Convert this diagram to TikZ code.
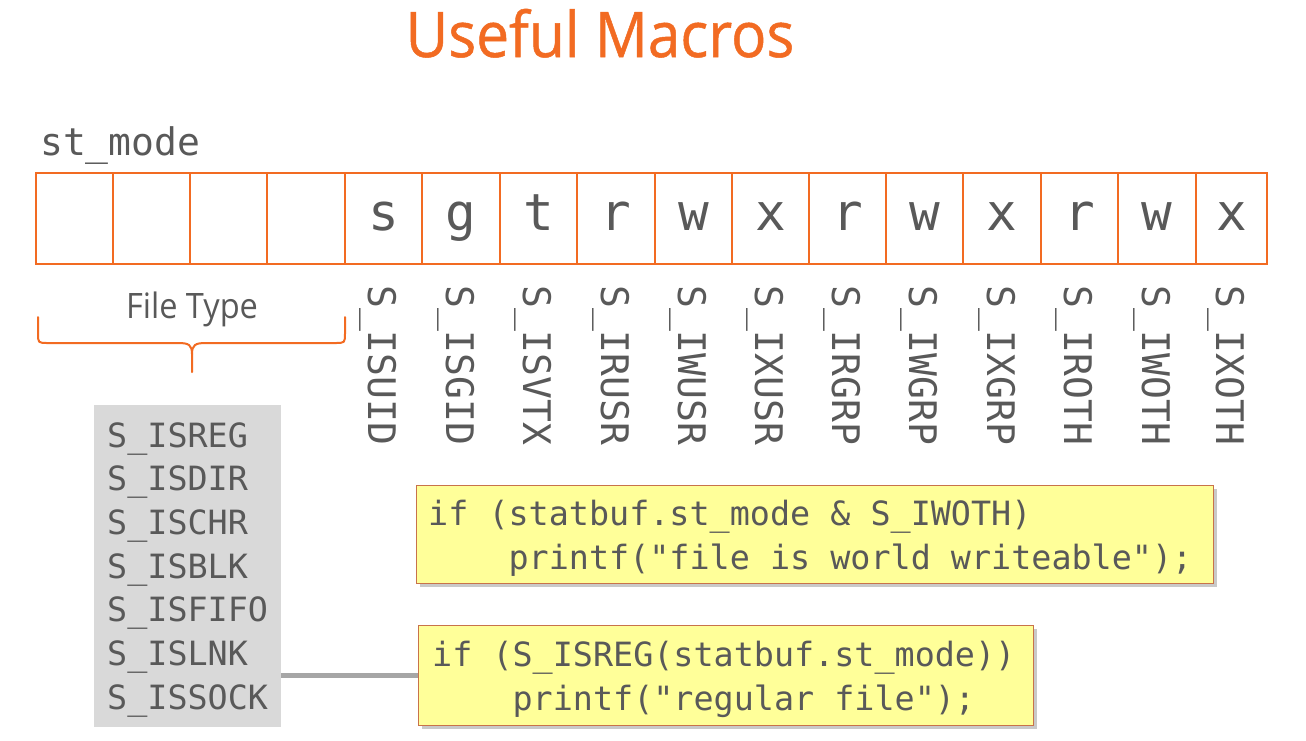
\documentclass[tikz,border=0pt]{standalone}
\usepackage{fontspec}
\setmainfont{Open Sans}
\newfontfamily\titlefont[FakeBold=0.8]{Open Sans}
\newfontfamily\codefont{DejaVu Sans Mono}
\usetikzlibrary{shadows}
\definecolor{orng}{HTML}{F26B22}
\definecolor{txtgray}{HTML}{595959}
\definecolor{boxgray}{HTML}{D9D9D9}
\definecolor{linegray}{HTML}{A6A6A6}
\definecolor{note}{HTML}{FFFF99}
\definecolor{noteborder}{HTML}{C8734A}
\tikzset{
  cellbox/.style={draw=orng, line width=2.6pt, inner sep=0pt, minimum height=91pt,
    text height=57pt, text depth=34pt, text=txtgray, font=\codefont\fontsize{51}{51}\selectfont},
  vlabel/.style={rotate=-90, anchor=base west, inner sep=0pt, text=txtgray,
    font=\codefont\fontsize{38}{38}\selectfont},
  codeline/.style={anchor=base west, inner sep=0pt, text=txtgray,
    font=\codefont\fontsize{33.4}{33.4}\selectfont},
  notebox/.style={draw=noteborder, line width=1.2pt, fill=note, inner sep=0pt,
    drop shadow={shadow xshift=3pt, shadow yshift=-3pt, opacity=0.35, fill=black!60}},
  bracepath/.style={draw=orng, line width=2pt, line cap=round, line join=round},
  conn/.style={draw=linegray, line width=5pt}
}
\begin{document}
\begin{tikzpicture}[x=1pt, y=-1pt]
\useasboundingbox[fill=white] (0,0) rectangle (1306,740);

% title
\node[anchor=base, inner sep=0pt, text=orng, xscale=0.93, font=\titlefont\fontsize{63}{63}\selectfont] (title) at (600,57) {Useful Macros};

% st_mode label
\node[anchor=base west, inner sep=0pt, text=txtgray, font=\codefont\fontsize{38}{38}\selectfont] (stmode) at (40,155) {st\_mode};

% register cells
\foreach \i/\xa/\xb/\ch/\lab in {
  0/36/113//, 1/113/190//, 2/190/267//, 3/267/345//,
  4/345/422/s/S\_ISUID, 5/422/500/g/S\_ISGID, 6/500/577/t/S\_ISVTX,
  7/577/655/r/S\_IRUSR, 8/655/732/w/S\_IWUSR, 9/732/809/x/S\_IXUSR,
  10/809/886/r/S\_IRGRP, 11/886/963/w/S\_IWGRP, 12/963/1041/x/S\_IXGRP,
  13/1041/1118/r/S\_IROTH, 14/1118/1196/w/S\_IWOTH, 15/1196/1267/x/S\_IXOTH}{
  \pgfmathsetmacro{\cx}{(\xa+\xb)/2}
  \pgfmathsetmacro{\cw}{\xb-\xa}
  \node[cellbox, minimum width=\cw pt] (c\i) at (\cx,218.5) {\ch};
  \ifnum\i>3
    \node[vlabel] (l\i) at ([xshift=-15pt]c\i.center |- 0,285) {\lab};
  \fi
}

% File Type brace
\node[anchor=base, inner sep=0pt, text=txtgray, xscale=0.93, font=\fontsize{35}{35}\selectfont] (ftype) at (192,318) {File Type};
\draw[bracepath] (38,317) -- (38,333) .. controls (38,343) and (38,343) .. (48,343)
  -- (178,343) .. controls (189,343) and (192,345) .. (192,354) -- (192,372);
\draw[bracepath] (345,317) -- (345,333) .. controls (345,343) and (345,343) .. (335,343)
  -- (206,343) .. controls (195,343) and (192,345) .. (192,354);

% gray box of file type macros
\node[fill=boxgray, inner sep=0pt, minimum width=187pt, minimum height=322pt, anchor=north west] (gbox) at (94,405) {};
\foreach \k/\m in {0/S\_ISREG, 1/S\_ISDIR, 2/S\_ISCHR, 3/S\_ISBLK, 4/S\_ISFIFO, 5/S\_ISLNK, 6/S\_ISSOCK}{
  \node[codeline] (g\k) at (107,447+43.67*\k) {\m};
}

% note boxes
\node[notebox, minimum width=797pt, minimum height=98pt, anchor=north west] (b1) at (416,485) {};
\node[codeline] (b1a) at (428,525) {if (statbuf.st\_mode \& S\_IWOTH)};
\node[codeline] (b1b) at (428,569) {\phantom{iiii}printf("file is world writeable");};

\node[notebox, minimum width=615pt, minimum height=100pt, anchor=north west] (b2) at (418,625) {};
\node[codeline] (b2a) at (432,666) {if (S\_ISREG(statbuf.st\_mode))};
\node[codeline] (b2b) at (432,710) {\phantom{iiii}printf("regular file");};

% connector
\draw[conn] (gbox.east |- b2.west) -- (b2.west);
\end{tikzpicture}
\end{document}
